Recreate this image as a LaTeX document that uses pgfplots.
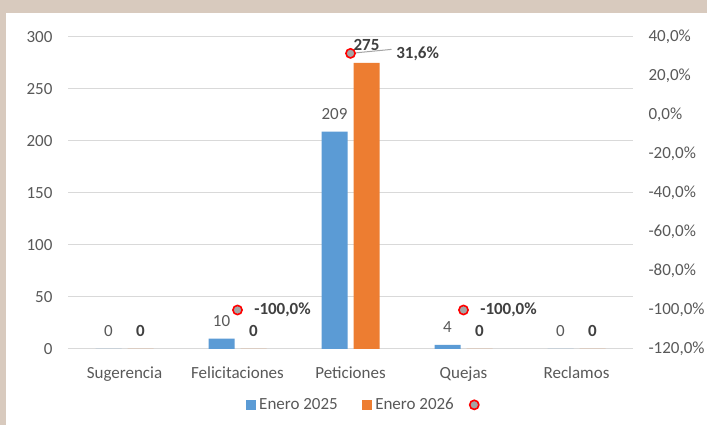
\documentclass[border=0pt]{standalone}
\usepackage{pgfplots}
\pgfplotsset{compat=1.18}
\usepackage{fontspec}
\setmainfont{Carlito}
\definecolor{blue5}{HTML}{5B9BD5}
\definecolor{orange6}{HTML}{ED7D31}
\definecolor{gridgray}{HTML}{D9D9D9}
\definecolor{txtgray}{HTML}{595959}
\definecolor{txtdark}{HTML}{404040}
\definecolor{markgray}{HTML}{A5A5A5}
\definecolor{beige}{RGB}{216,202,190}
\newcommand{\chartfont}{\fontsize{17}{20}\selectfont}
\begin{document}
\begin{tikzpicture}[font=\chartfont]
\fill[beige] (0,0) rectangle (707pt,425pt);
\fill[white] (6pt,0) rectangle (707pt,412pt);
\path[use as bounding box] (0,0) rectangle (707pt,425pt);

% bars, left axis
\begin{axis}[
  at={(68pt,76pt)}, anchor=south west,
  width=565pt, height=312pt, scale only axis,
  xmin=-0.5, xmax=4.5, ymin=0, ymax=300,
  ytick={0,50,...,300},
  xtick={0,...,4},
  xticklabels={Sugerencia,Felicitaciones,Peticiones,Quejas,Reclamos},
  axis line style={draw=none},
  major tick length=0pt,
  ymajorgrids, grid style={line width=1pt, gridgray},
  tick label style={text=txtgray, font=\chartfont},
  yticklabel style={anchor=east, xshift=-12pt},
  xticklabel style={yshift=-14pt},
  /pgf/number format/assume math mode=true,
  clip=false,
]
\addplot[ybar, bar width=26pt, bar shift=-16pt, fill=blue5, draw=none,
  nodes near coords,
  every node near coord/.append style={anchor=center, xshift=-16pt, yshift=18pt,
    text=txtgray, font=\chartfont}]
  coordinates {(0,0) (1,10) (2,209) (3,4) (4,0)};
\addplot[ybar, bar width=26pt, bar shift=16pt, fill=orange6, draw=none,
  nodes near coords,
  every node near coord/.append style={anchor=center, xshift=16pt, yshift=18pt,
    text=txtdark, font=\chartfont\bfseries}]
  coordinates {(0,0) (1,0) (2,275) (3,0) (4,0)};
\end{axis}

% variation markers, right axis
\begin{axis}[
  at={(68pt,76pt)}, anchor=south west,
  width=565pt, height=312pt, scale only axis,
  xmin=-0.5, xmax=4.5, ymin=-120, ymax=40,
  axis x line=none,
  axis y line*=right,
  axis line style={draw=none},
  major tick length=0pt,
  ytick={-120,-100,...,40},
  yticklabel={\pgfmathprintnumber[fixed,fixed zerofill,precision=1,use comma]{\tick}\%},
  yticklabel style={text=txtgray, font=\chartfont, anchor=west, xshift=12pt},
  /pgf/number format/assume math mode=true,
  clip=false,
  legend style={draw=none, fill=none, at={(0.527,-0.179)}, anchor=center,
    legend columns=3, text=txtgray, font=\chartfont,
    /tikz/every odd column/.append style={column sep=2pt},
    /tikz/column 2/.append style={column sep=22pt},
    /tikz/column 4/.append style={column sep=13pt}},
]
\addlegendimage{legend image code/.code={\fill[blue5] (0pt,-4.5pt) rectangle (9pt,4.5pt);}}
\addlegendentry{Enero 2025}
\addlegendimage{legend image code/.code={\fill[orange6] (0pt,-4.5pt) rectangle (9pt,4.5pt);}}
\addlegendentry{Enero 2026}
\draw[markgray, line width=1pt] (axis cs:2,31.6) ++(5pt,0.5pt) -- ++(36pt,3.5pt);
\addplot[only marks, mark=*, mark size=4.6pt,
  mark options={fill=markgray, draw=red, line width=1.6pt},
  visualization depends on={value \thisrow{dx}\as\dx},
  point meta=y,
  nodes near coords={\pgfmathprintnumber[fixed,fixed zerofill,precision=1,use comma]{\pgfplotspointmeta}\%},
  every node near coord/.append style={anchor=west, inner sep=0pt, xshift=\dx*1pt,
    font=\chartfont\bfseries, text=txtdark},
  legend image code/.code={\draw[fill=markgray, draw=red, line width=1.6pt] (6pt,0) circle (4.6pt);}]
  table {
x y dx
1 -100 16
2 31.6 45
3 -100 16
};
\addlegendentry{}
\end{axis}
\end{tikzpicture}
\end{document}
